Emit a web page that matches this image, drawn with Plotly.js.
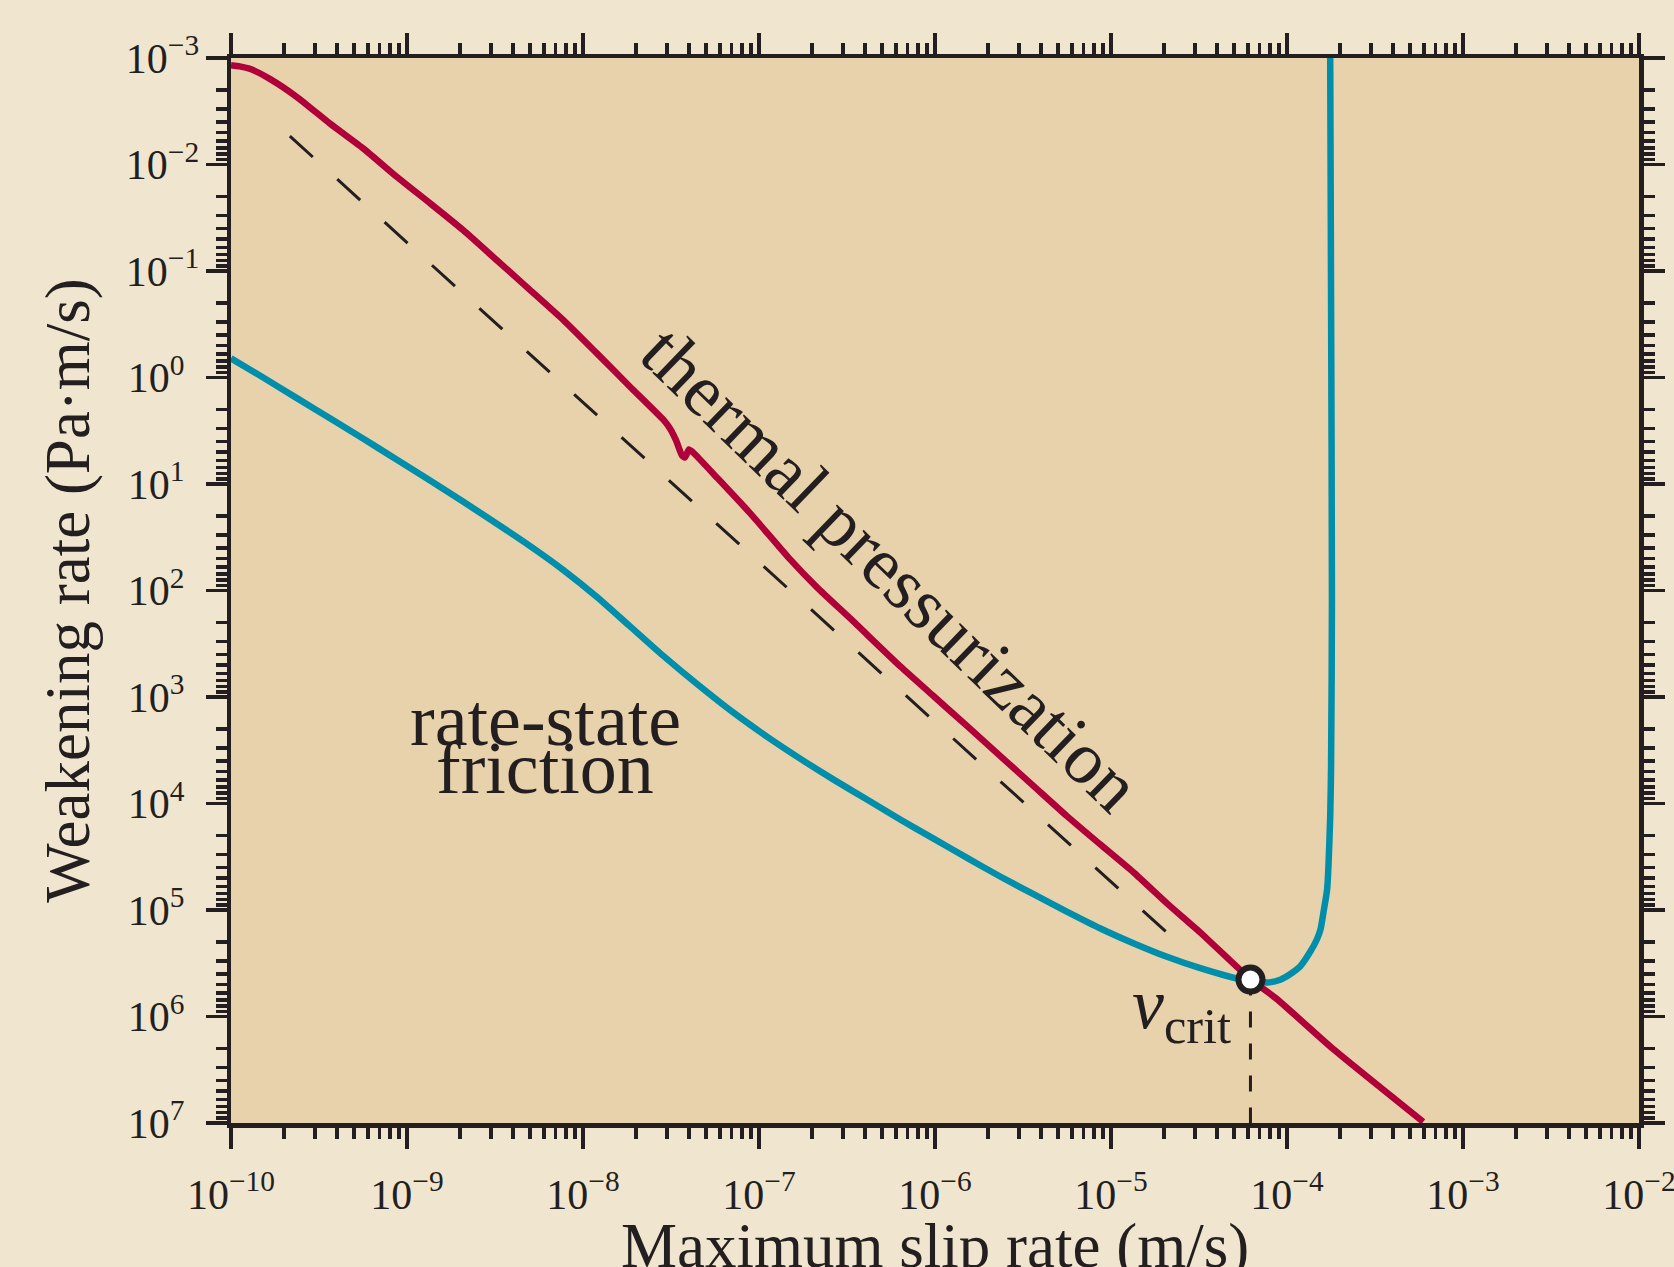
<!DOCTYPE html>
<html>
<head>
<meta charset="utf-8">
<script src="https://cdn.plot.ly/plotly-3.0.1.min.js"></script>
<style>
  html, body { margin: 0; padding: 0; background: #F0E5CF; }
  #chart { width: 1674px; height: 1267px; }
</style>
</head>
<body>
<div id="chart"></div>
<script>
// ---- data ----
const thermalX = [1.00e-10, 1.12e-10, 1.29e-10, 1.67e-10, 2.38e-10, 3.67e-10, 5.68e-10, 8.77e-10,
  1.36e-9, 2.09e-9, 3.24e-9, 5.01e-9, 7.74e-9, 1.20e-8, 1.85e-8, 2.86e-8,
  3.12e-8, 3.38e-8, 3.65e-8, 3.80e-8, 4.00e-8, 4.22e-8, 5.82e-8, 9.00e-8,
  1.48e-7, 2.15e-7, 3.32e-7, 6.38e-7, 9.87e-7, 1.53e-6, 2.36e-6, 3.65e-6,
  5.64e-6, 8.71e-6, 1.35e-5, 2.08e-5, 3.22e-5, 6.19e-5, 8.77e-5, 1.83e-4, 5.94e-4];
const thermalY = [1.17e-3, 1.20e-3, 1.27e-3, 1.58e-3, 2.34e-3, 4.16e-3, 7.13e-3, 1.31e-2,
  2.33e-2, 4.15e-2, 7.93e-2, 0.151, 0.289, 0.594, 1.22, 2.49,
  3.01, 3.90, 5.39, 5.63, 4.74, 5.05, 8.85, 19.2,
  49.7, 94.5, 185, 519, 990, 1.89e3, 3.61e3, 6.90e3,
  1.32e4, 2.43e4, 4.47e4, 8.66e4, 1.63e5, 4.46e5, 6.87e5, 2.02e6, 9.75e6];

const rsfX = [1.00e-10, 1.54e-10, 2.38e-10, 3.67e-10, 5.68e-10, 8.77e-10, 1.36e-9, 2.09e-9,
  3.24e-9, 5.01e-9, 7.74e-9, 1.20e-8, 1.85e-8, 2.86e-8, 4.43e-8, 7.23e-8,
  1.12e-7, 1.73e-7, 2.67e-7, 4.13e-7, 6.38e-7, 9.87e-7, 1.53e-6, 2.36e-6,
  3.65e-6, 5.64e-6, 8.71e-6, 1.35e-5, 2.08e-5, 3.22e-5, 5.43e-5, 6.19e-5,
  7.71e-5, 9.16e-5, 1.04e-4, 1.19e-4, 1.36e-4, 1.48e-4, 1.55e-4, 1.61e-4,
  1.69e-4, 1.72e-4, 1.76e-4, 1.78e-4, 1.80e-4, 1.78e-4, 1.76e-4];
const rsfY = [0.661, 1.01, 1.57, 2.43, 3.78, 5.92, 9.31, 14.7,
  23.6, 38.3, 64.3, 115, 217, 411, 751, 1.42e3,
  2.38e3, 3.83e3, 6.00e3, 9.23e3, 1.42e4, 2.15e4, 3.26e4, 4.87e4,
  7.15e4, 1.04e5, 1.49e5, 2.06e5, 2.75e5, 3.52e5, 4.47e5, 4.50e5,
  4.79e5, 4.51e5, 4.01e5, 3.37e5, 2.44e5, 1.88e5, 1.52e5, 1.06e5,
  6.40e4, 3.87e4, 1.32e4, 4.48e3, 123, 0.19, 1.0e-3];

const asymptoteX = [2.16e-10, 2.13e-5];
const asymptoteY = [5.42e-3, 1.69e5];

const vcritX = [6.2e-5];
const vcritY = [4.5e5];
const vcritDropY = [4.5e5, 1e7];

const xTickVals = [1e-10, 1e-9, 1e-8, 1e-7, 1e-6, 1e-5, 1e-4, 1e-3, 1e-2];
const xTickText = ['10<sup>\u221210</sup>', '10<sup>\u22129</sup>', '10<sup>\u22128</sup>', '10<sup>\u22127</sup>',
  '10<sup>\u22126</sup>', '10<sup>\u22125</sup>', '10<sup>\u22124</sup>', '10<sup>\u22123</sup>', '10<sup>\u22122</sup>'];
const yTickVals = [1e-3, 1e-2, 1e-1, 1, 10, 1e2, 1e3, 1e4, 1e5, 1e6, 1e7];
const yTickText = ['10<sup>\u22123</sup>', '10<sup>\u22122</sup>', '10<sup>\u22121</sup>',
  '10<sup>0\u2007</sup>', '10<sup>1\u2007</sup>', '10<sup>2\u2007</sup>', '10<sup>3\u2007</sup>',
  '10<sup>4\u2007</sup>', '10<sup>5\u2007</sup>', '10<sup>6\u2007</sup>', '10<sup>7\u2007</sup>'];

const xTitle = 'Maximum slip rate (m/s)';
const yTitle = 'Weakening rate (Pa\u00b7m/s)';

// ---- styles ----
const INK = '#231F20';
const RED = '#B0003A';
const TEAL = '#008EAA';
const FONT = 'Liberation Serif, Times New Roman, serif';

const traces = [
  { x: asymptoteX, y: asymptoteY, mode: 'lines', line: { color: INK, width: 3, dash: '31px,33px' }, hoverinfo: 'skip' },
  { x: rsfX, y: rsfY, mode: 'lines', line: { color: TEAL, width: 6.5, shape: 'spline', smoothing: 0.7 }, hoverinfo: 'skip' },
  { x: thermalX, y: thermalY, mode: 'lines', line: { color: RED, width: 6.5, shape: 'spline', smoothing: 0.5 }, hoverinfo: 'skip' },
  { x: [vcritX[0], vcritX[0]], y: vcritDropY, mode: 'lines', line: { color: INK, width: 3, dash: '16px,16px' }, hoverinfo: 'skip' },
  { x: vcritX, y: vcritY, mode: 'markers', marker: { color: '#FFFFFF', size: 24, line: { color: INK, width: 6 } }, hoverinfo: 'skip' }
];

const axisCommon = {
  type: 'log',
  tickmode: 'array',
  ticks: 'outside', ticklen: 21, tickwidth: 3.5, tickcolor: INK,
  showline: true, linewidth: 4.5, linecolor: INK,
  mirror: 'ticks',
  showgrid: false, zeroline: false,
  tickfont: { family: FONT, size: 42, color: INK },
  ticklabeloverflow: 'allow',
  minor: { ticks: 'outside', ticklen: 11, tickwidth: 3.5, tickcolor: INK, dtick: 'D1', showgrid: false },
  automargin: false
};

const layout = {
  width: 1674, height: 1267,
  paper_bgcolor: '#F0E5CF', plot_bgcolor: '#E8D2AC',
  margin: { l: 231, r: 35, t: 58, b: 144, pad: 0 },
  showlegend: false,
  font: { family: FONT, color: INK },
  xaxis: Object.assign({}, axisCommon, {
    range: [-10, -2], tickvals: xTickVals, ticktext: xTickText,
    ticklabelstandoff: 10
  }),
  yaxis: Object.assign({}, axisCommon, {
    range: [7, -3], tickvals: yTickVals, ticktext: yTickText,
    ticklabelstandoff: -2,
    title: { text: yTitle, font: { family: FONT, size: 63, color: INK }, standoff: 17 }
  }),
  annotations: [
    // x-axis title, placed like the reference (its lower part runs off the bottom edge)
    { x: 0.5, y: 0, xref: 'paper', yref: 'paper', text: xTitle, showarrow: false,
      font: { family: FONT, size: 63, color: INK }, xanchor: 'center', yanchor: 'top', yshift: -86 },
    { x: -6.25, y: 1.80, xref: 'x', yref: 'y', text: 'thermal pressurization', showarrow: false,
      textangle: 44, font: { family: FONT, size: 74, color: INK }, xanchor: 'center', yanchor: 'middle' },
    { x: -8.215, y: 3.214, xref: 'x', yref: 'y', text: 'rate-state', showarrow: false,
      font: { family: FONT, size: 74, color: INK }, xanchor: 'center', yanchor: 'middle' },
    { x: -8.215, y: 3.664, xref: 'x', yref: 'y', text: 'friction', showarrow: false,
      font: { family: FONT, size: 74, color: INK }, xanchor: 'center', yanchor: 'middle' },
    { x: -4.597, y: 5.93, xref: 'x', yref: 'y', text: '<i>v</i><sub>crit</sub>', showarrow: false,
      font: { family: FONT, size: 72, color: INK }, xanchor: 'center', yanchor: 'middle' }
  ]
};

Plotly.newPlot('chart', traces, layout, { staticPlot: true, displayModeBar: false });
</script>
</body>
</html>
